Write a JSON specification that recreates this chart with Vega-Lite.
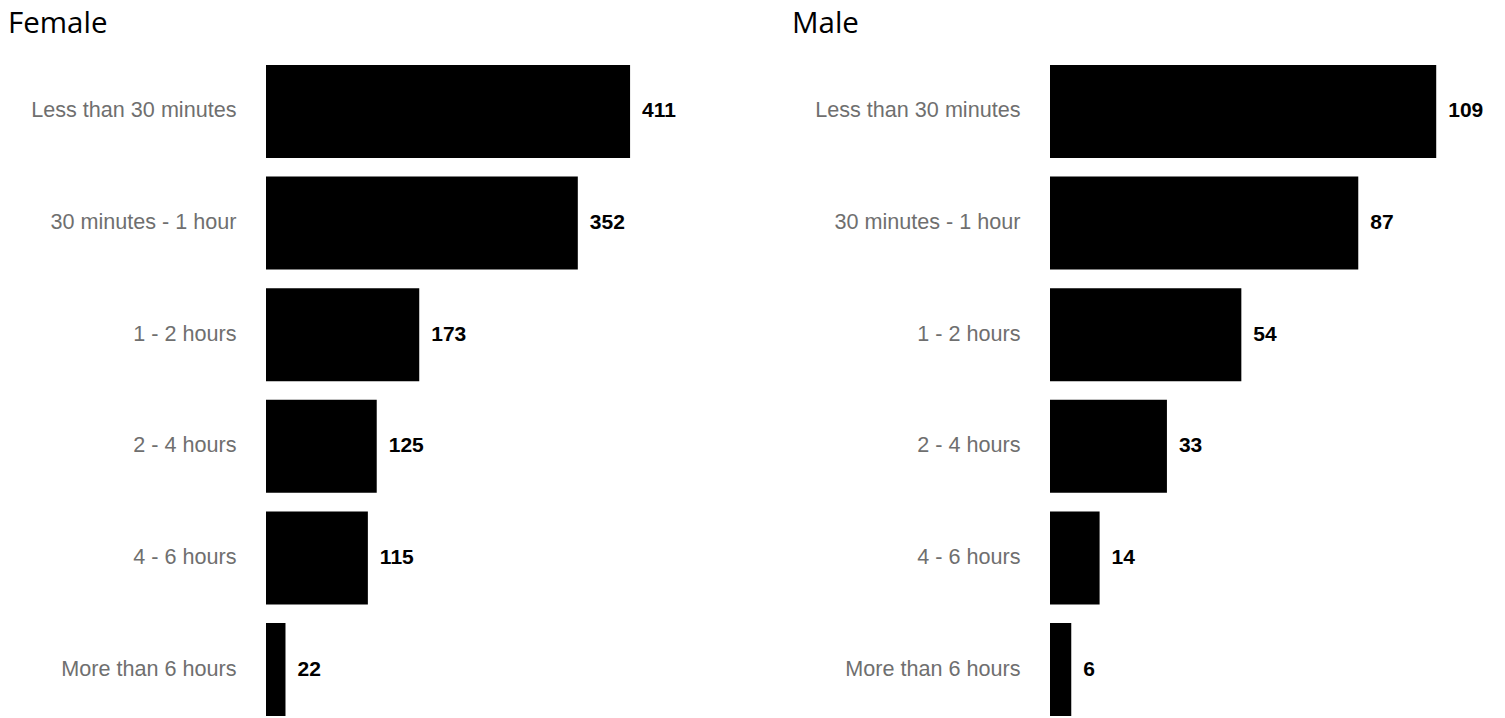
{
  "$schema": "https://vega.github.io/schema/vega-lite/v6.json",
  "padding": {"left": 8, "top": 8, "right": 0, "bottom": 0},
  "background": "#ffffff",
  "config": {
    "view": {"stroke": null},
    "concat": {"spacing": 76},
    "axis": {
      "domain": false,
      "ticks": false,
      "grid": false,
      "labelPadding": 30,
      "labelFont": "Liberation Sans",
      "labelFontSize": 21.6,
      "labelColor": "#6f6f6f",
      "labelLimit": 400,
      "minExtent": 258,
      "maxExtent": 258,
      "title": null
    },
    "title": {
      "anchor": "start",
      "font": "Open Sans",
      "fontSize": 29.5,
      "fontWeight": "normal",
      "color": "#000000",
      "baseline": "alphabetic",
      "offset": 26
    }
  },
  "datasets": {
    "hours": [
      {"gender": "Female", "duration": "Less than 30 minutes", "count": 411},
      {"gender": "Female", "duration": "30 minutes - 1 hour", "count": 352},
      {"gender": "Female", "duration": "1 - 2 hours", "count": 173},
      {"gender": "Female", "duration": "2 - 4 hours", "count": 125},
      {"gender": "Female", "duration": "4 - 6 hours", "count": 115},
      {"gender": "Female", "duration": "More than 6 hours", "count": 22},
      {"gender": "Male", "duration": "Less than 30 minutes", "count": 109},
      {"gender": "Male", "duration": "30 minutes - 1 hour", "count": 87},
      {"gender": "Male", "duration": "1 - 2 hours", "count": 54},
      {"gender": "Male", "duration": "2 - 4 hours", "count": 33},
      {"gender": "Male", "duration": "4 - 6 hours", "count": 14},
      {"gender": "Male", "duration": "More than 6 hours", "count": 6}
    ]
  },
  "hconcat": [
    {
      "title": {"text": "Female"},
      "data": {"name": "hours"},
      "transform": [{"filter": "datum.gender === 'Female'"}],
      "width": 450,
      "height": 651,
      "encoding": {
        "y": {
          "field": "duration",
          "type": "nominal",
          "sort": ["Less than 30 minutes", "30 minutes - 1 hour", "1 - 2 hours", "2 - 4 hours", "4 - 6 hours", "More than 6 hours"],
          "scale": {"paddingInner": 0.167, "paddingOuter": 0}
        },
        "x": {"field": "count", "type": "quantitative", "scale": {"domain": [0, 508]}, "axis": null}
      },
      "layer": [
        {"mark": {"type": "bar", "color": "#000000"}},
        {
          "mark": {"type": "text", "align": "left", "baseline": "middle", "dx": 12, "font": "Liberation Sans", "fontWeight": "bold", "fontSize": 21, "color": "#000000"},
          "encoding": {"text": {"field": "count", "type": "quantitative"}}
        }
      ]
    },
    {
      "title": {"text": "Male"},
      "data": {"name": "hours"},
      "transform": [{"filter": "datum.gender === 'Male'"}],
      "width": 450,
      "height": 651,
      "encoding": {
        "y": {
          "field": "duration",
          "type": "nominal",
          "sort": ["Less than 30 minutes", "30 minutes - 1 hour", "1 - 2 hours", "2 - 4 hours", "4 - 6 hours", "More than 6 hours"],
          "scale": {"paddingInner": 0.167, "paddingOuter": 0}
        },
        "x": {"field": "count", "type": "quantitative", "scale": {"domain": [0, 127]}, "axis": null}
      },
      "layer": [
        {"mark": {"type": "bar", "color": "#000000"}},
        {
          "mark": {"type": "text", "align": "left", "baseline": "middle", "dx": 12, "font": "Liberation Sans", "fontWeight": "bold", "fontSize": 21, "color": "#000000"},
          "encoding": {"text": {"field": "count", "type": "quantitative"}}
        }
      ]
    }
  ]
}
